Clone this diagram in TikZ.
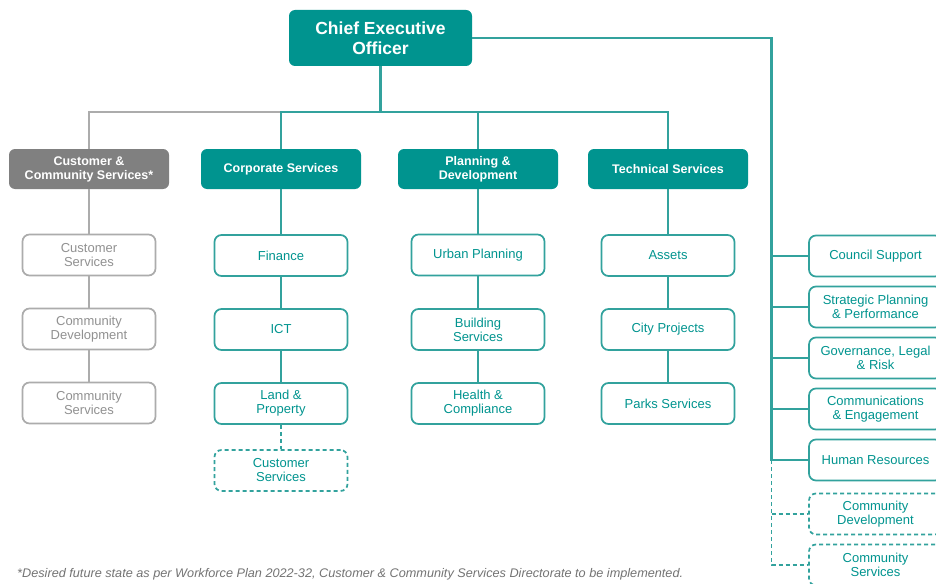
\documentclass[tikz,border=0pt]{standalone}
\usepackage{fontspec}
\setmainfont{Liberation Sans}
\definecolor{tealfill}{RGB}{0,148,143}
\definecolor{tealline}{RGB}{50,162,157}
\definecolor{grayfill}{RGB}{128,128,128}
\definecolor{grayline}{RGB}{172,172,172}
\definecolor{graytext}{RGB}{145,145,145}
\definecolor{notetext}{RGB}{115,115,115}
\tikzset{
  ceobox/.style={rectangle, rounded corners=6pt, fill=tealfill, text=white, font=\fontsize{17.5}{20}\selectfont\bfseries, minimum width=183pt, minimum height=56pt, align=center, inner sep=0pt},
  headbox/.style={rectangle, rounded corners=6pt, fill=tealfill, text=white, font=\fontsize{12.5}{14}\selectfont\bfseries, minimum width=160pt, minimum height=40pt, align=center, inner sep=0pt},
  grayhead/.style={headbox, fill=grayfill},
  unitbox/.style={rectangle, rounded corners=7pt, draw=tealline, line width=1.7pt, fill=white, text=tealfill, font=\fontsize{13}{14}\selectfont, minimum width=133pt, minimum height=41pt, align=center, inner sep=0pt},
  grayunit/.style={unitbox, draw=grayline, text=graytext},
  dashunit/.style={unitbox, dash pattern=on 4pt off 3pt},
  link/.style={draw=tealline, line width=2.2pt},
  graylink/.style={draw=grayline, line width=2.2pt},
  dashlink/.style={draw=tealline, line width=1.8pt, dash pattern=on 4pt off 3pt},
}
\begin{document}
\begin{tikzpicture}[x=1pt, y=-1pt]
\clip (0,0) rectangle (936,583);
\fill[white] (0,0) rectangle (936,583);

% CEO
\node[ceobox] (ceo) at (380.5,38) {Chief Executive\\Officer};

% Directorates
\node[grayhead] (ccs) at (89,169) {Customer \&\\Community Services*};
\node[headbox] (corp) at (281,169) {Corporate Services};
\node[headbox] (plan) at (478,169) {Planning \&\\Development};
\node[headbox] (tech) at (668,169) {Technical Services};

% Column 1 (gray)
\node[grayunit] (c1a) at (89,255) {Customer\\Services};
\node[grayunit] (c1b) at (89,329) {Community\\Development};
\node[grayunit] (c1c) at (89,403) {Community\\Services};

% Column 2
\node[unitbox] (c2a) at (281,255.5) {Finance};
\node[unitbox] (c2b) at (281,329.5) {ICT};
\node[unitbox] (c2c) at (281,403.5) {Land \&\\Property};
\node[dashunit] (c2d) at (281,470.5) {Customer\\Services};

% Column 3
\node[unitbox] (c3a) at (478,255) {Urban Planning};
\node[unitbox] (c3b) at (478,329.5) {Building\\Services};
\node[unitbox] (c3c) at (478,403.5) {Health \&\\Compliance};

% Column 4
\node[unitbox] (c4a) at (668,255.5) {Assets};
\node[unitbox] (c4b) at (668,329.5) {City Projects};
\node[unitbox] (c4c) at (668,403.5) {Parks Services};

% Right column
\node[unitbox] (r1) at (875.5,256) {Council Support};
\node[unitbox] (r2) at (875.5,307) {Strategic Planning\\\& Performance};
\node[unitbox] (r3) at (875.5,358) {Governance, Legal\\\& Risk};
\node[unitbox] (r4) at (875.5,409) {Communications\\\& Engagement};
\node[unitbox] (r5) at (875.5,460) {Human Resources};
\node[dashunit] (r6) at (875.5,514) {Community\\Development};
\node[dashunit] (r7) at (875.5,565) {Community\\Services};

% Bus coordinates
\coordinate (bus) at (381,112);
\coordinate (spine) at (771.5,38);

% Top connectors
\draw[graylink] (ccs.north) |- (corp.north |- bus);
\draw[link] (corp.north) |- (tech.north |- bus) -- (tech.north);
\draw[link] (plan.north) -- (plan.north |- bus);
\draw[link] (ceo.south) -- (ceo.south |- bus);

% Column connectors
\draw[graylink] (ccs.south) -- (c1a.north);
\draw[graylink] (c1a.south) -- (c1b.north);
\draw[graylink] (c1b.south) -- (c1c.north);

\draw[link] (corp.south) -- (c2a.north);
\draw[link] (c2a.south) -- (c2b.north);
\draw[link] (c2b.south) -- (c2c.north);
\draw[dashlink] (c2c.south) -- (c2d.north);

\draw[link] (plan.south) -- (c3a.north);
\draw[link] (c3a.south) -- (c3b.north);
\draw[link] (c3b.south) -- (c3c.north);

\draw[link] (tech.south) -- (c4a.north);
\draw[link] (c4a.south) -- (c4b.north);
\draw[link] (c4b.south) -- (c4c.north);

% Right spine
\draw[link] (ceo.east) -- (spine) -- (spine |- r5.west) -- (r5.west);
\draw[link] (spine |- r1.west) -- (r1.west);
\draw[link] (spine |- r2.west) -- (r2.west);
\draw[link] (spine |- r3.west) -- (r3.west);
\draw[link] (spine |- r4.west) -- (r4.west);
\draw[dashlink] (spine |- r5.west) -- (spine |- r7.west) -- (r7.west);
\draw[dashlink] (spine |- r6.west) -- (r6.west);

% Footnote
\node[anchor=west, inner sep=0pt, text=notetext, font=\fontsize{12.5}{13}\selectfont\itshape] (note) at (17,574)
  {\resizebox{666pt}{\height}{*Desired future state as per Workforce Plan 2022-32, Customer \& Community Services Directorate to be implemented.}};
\end{tikzpicture}
\end{document}
